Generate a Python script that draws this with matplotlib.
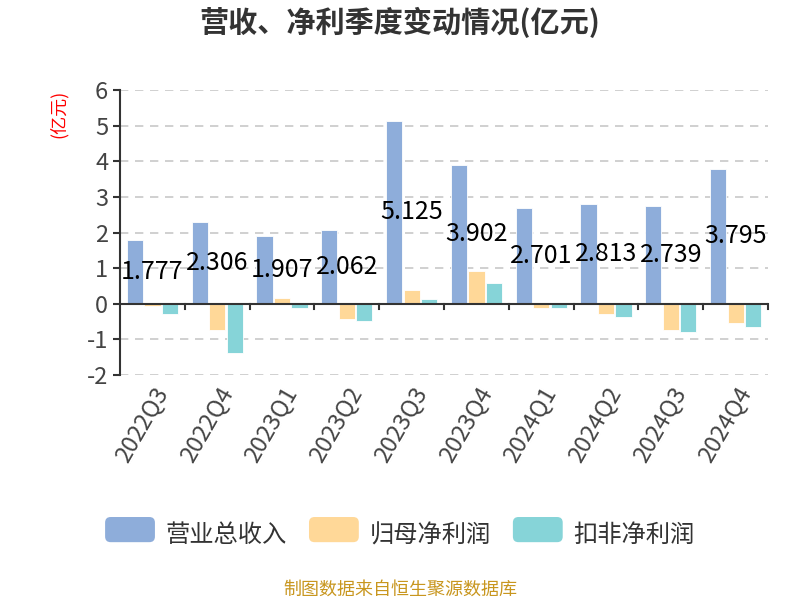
"""Quarterly revenue / net profit bar chart (亿元)."""

import matplotlib
matplotlib.use("Agg")
import matplotlib.pyplot as plt
import numpy as np
from matplotlib.patches import FancyBboxPatch, Rectangle
from matplotlib.legend_handler import HandlerPatch

plt.rcParams["font.family"] = ["Noto Sans CJK SC", "DejaVu Sans"]
plt.rcParams["axes.unicode_minus"] = False

quarters = ["2022Q3", "2022Q4", "2023Q1", "2023Q2", "2023Q3",
            "2023Q4", "2024Q1", "2024Q2", "2024Q3", "2024Q4"]
revenue = [1.777, 2.306, 1.907, 2.062, 5.125, 3.902, 2.701, 2.813, 2.739, 3.795]
net_profit = [-0.07, -0.74, 0.15, -0.43, 0.39, 0.92, -0.11, -0.30, -0.75, -0.53]
deducted_profit = [-0.29, -1.37, -0.12, -0.49, 0.12, 0.59, -0.13, -0.36, -0.79, -0.64]

series_names = ["营业总收入", "归母净利润", "扣非净利润"]
colors = ["#8EADDA", "#FFD898", "#86D4D8"]


class RoundHandler(HandlerPatch):
    def create_artists(self, legend, orig, xd, yd, w, h, fs, trans):
        p = FancyBboxPatch((xd, yd - 0.1 * h), w, h * 1.2,
                           boxstyle="round,pad=0,rounding_size=4",
                           fc=orig.get_facecolor(), ec="none", transform=trans)
        return [p]


fig = plt.figure(figsize=(8, 6), dpi=100)
ax = fig.add_axes([0.15, 0.375, 0.81, 0.475])

x = np.arange(len(quarters))
w = 0.25
off = 0.27
for k, (vals, c) in enumerate(zip([revenue, net_profit, deducted_profit], colors)):
    ax.bar(x + (k - 1) * off, vals, w, color=c, edgecolor="white",
           linewidth=0.6, zorder=3)

for xi, v in zip(x, revenue):
    ax.text(xi, v / 2, f"{v:.3f}", ha="center", va="center",
            fontsize=18, color="black", zorder=5)

ax.set_xlim(-0.5, len(quarters) - 0.5)
ax.set_ylim(-2, 6)
ax.set_yticks(range(-2, 7))
ax.yaxis.grid(True, ls=(0, (5, 4)), color="#c8c8c8", lw=1.2, zorder=0)
ax.tick_params(axis="y", labelsize=17, colors="#333333", length=5, width=1.5)
for lab in ax.get_yticklabels():
    lab.set_color("#444444")

for s in ("top", "right", "bottom"):
    ax.spines[s].set_visible(False)
ax.spines["left"].set_color("#333333")
ax.spines["left"].set_linewidth(1.5)
ax.axhline(0, color="#333333", lw=1.5, zorder=4)

# ticks at boundaries between quarters on the zero line
for b in np.arange(0.5, len(quarters), 1.0):
    ax.plot([b, b], [0, -0.15], color="#333333", lw=1.5, zorder=4,
            clip_on=False)
ax.set_xticks(x)
ax.set_xticklabels(quarters, rotation=60, ha="right", rotation_mode="anchor",
                   fontsize=17, color="#444444")
ax.tick_params(axis="x", length=0, pad=6)

ax.text(-0.095, 1.0, "(亿元)", transform=ax.transAxes, rotation=90,
        ha="center", va="top", fontsize=13, color="red")

fig.text(0.5, 0.962, "营收、净利季度变动情况(亿元)", ha="center", va="center",
         fontsize=21, fontweight="bold", color="#333333")

proxies = [Rectangle((0, 0), 1, 1, fc=c) for c in colors]
fig.legend(proxies, series_names, loc="center",
           bbox_to_anchor=(0.5, 0.108), ncol=3, frameon=False, fontsize=17.5,
           handlelength=2.05, handleheight=0.95, columnspacing=0.9,
           handletextpad=0.45, labelcolor="#333333",
           handler_map={Rectangle: RoundHandler()})

fig.text(0.5, 0.018, "制图数据来自恒生聚源数据库", ha="center", va="center",
         fontsize=13, color="#C8961E")

fig.savefig("out.png", dpi=100)
